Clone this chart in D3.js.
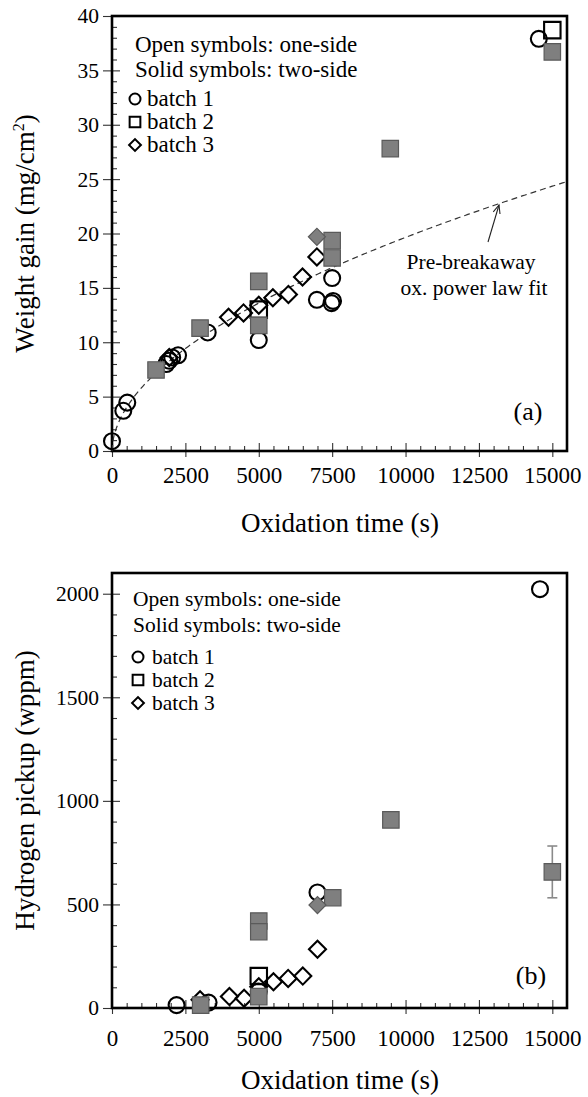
<!DOCTYPE html>
<html><head><meta charset="utf-8">
<script src="https://cdn.jsdelivr.net/npm/d3@7"></script>
<style>
body{margin:0;background:#fff}
svg{display:block}
text{font-family:"Liberation Serif","Times New Roman",serif;fill:#000}
</style>
</head><body>
<svg id="c" width="588" height="1097"></svg>
<script>
// ---------- DATA ----------
// x ticks (s)
const xTicks = [0, 2500, 5000, 7500, 10000, 12500, 15000];
// Panel (a): weight gain (mg/cm2)
const aYTicks = [0, 5, 10, 15, 20, 25, 30, 35, 40];
const aBatch1Open  = [[0,0.9],[385,3.7],[520,4.45],[1850,8.0],[1950,8.3],[2050,8.6],[2250,8.8],[3260,10.9],[5000,10.2],[6980,13.9],[7500,15.9],[7480,13.6],[7530,13.8],[14540,37.9]];
const aBatch2Open  = [[5000,13.0],[15000,38.7]];
const aBatch2Solid = [[1500,7.45],[3000,11.3],[5000,15.6],[5000,11.55],[7500,19.35],[7500,17.75],[9480,27.8],[15000,36.7]];
const aBatch3Open  = [[1950,8.6],[3970,12.3],[4480,12.7],[5000,13.4],[5480,14.1],[6010,14.4],[6490,16.0],[6980,17.85]];
const aBatch3Solid = [[6980,19.7]];
// pre-breakaway power-law fit  w = A * t^N
const fitA = 0.149, fitN = 0.53;
// Panel (b): hydrogen pickup (wppm)
const bYTicks = [0, 500, 1000, 1500, 2000];
const bBatch1Open  = [[2200,14],[3290,26],[5000,80],[7000,558],[14580,2022]];
const bBatch2Open  = [[5000,154]];
const bBatch2Solid = [[3020,14],[5000,55],[5000,420],[5000,368],[7520,532],[9500,908],[15000,657]];
const bBatch2Err   = [[15000,657,125]];
const bBatch3Open  = [[3000,40],[4000,55],[4500,47],[5000,103],[5500,127],[6000,143],[6500,154],[7000,284]];
const bBatch3Solid = [[7000,497]];
// legend
const legendHead = ["Open symbols: one-side", "Solid symbols: two-side"];
const legendBatches = ["batch 1", "batch 2", "batch 3"];

// ---------- DRAW ----------
const svg = d3.select("#c");
const GRAY = "#7f7f7f", GRAY_STROKE = "#5a5a5a";

function symbolPath(type, size) {
  const s = {circle: d3.symbolCircle, square: d3.symbolSquare, diamond: d3.symbolSquare}[type];
  return d3.symbol().type(s).size(size)();
}

function drawMarkers(g, x, y, data, type, filled) {
  const area = {circle: 200, square: 270, diamond: 145}[type];
  g.selectAll(null).data(data).enter().append("path")
    .attr("d", symbolPath(type, area))
    .attr("transform", d => `translate(${x(d[0])},${y(d[1])})` + (type === "diamond" ? " rotate(45)" : ""))
    .attr("fill", filled ? GRAY : "none")
    .attr("stroke", filled ? GRAY_STROKE : "#000")
    .attr("stroke-width", filled ? 1.2 : 2.1);
}

function panel(cfg) {
  const g = svg.append("g");
  const x = d3.scaleLinear().domain([0, 15500]).range([112, 567]);
  const y = d3.scaleLinear().domain(cfg.yDomain).range([cfg.bottom, cfg.top]);

  const xMinor = d3.range(0, 15001, 500).filter(v => !xTicks.includes(v));
  const yMinor = d3.range(cfg.yDomain[0], cfg.yTicks[cfg.yTicks.length-1] + 1e-9, cfg.yMinorStep).filter(v => !cfg.yTicks.some(t => Math.abs(t - v) < 1e-9));
  const minorX = g.append("g").attr("transform", `translate(0,${cfg.bottom})`)
    .call(d3.axisBottom(x).tickValues(xMinor).tickSize(-5).tickFormat(""));
  const minorY = g.append("g").attr("transform", `translate(112,0)`)
    .call(d3.axisLeft(y).tickValues(yMinor).tickSize(-5).tickFormat(""));
  const inX = g.append("g").attr("transform", `translate(0,${cfg.bottom})`)
    .call(d3.axisBottom(x).tickValues(xTicks).tickSize(-8).tickFormat(""));
  const inY = g.append("g").attr("transform", `translate(112,0)`)
    .call(d3.axisLeft(y).tickValues(cfg.yTicks).tickSize(-8).tickFormat(""));
  const xAx = g.append("g").attr("transform", `translate(0,${cfg.bottom})`)
    .call(d3.axisBottom(x).tickValues(xTicks).tickSize(6).tickPadding(cfg.xPad).tickFormat(d3.format("d")));
  const yAx = g.append("g").attr("transform", `translate(112,0)`)
    .call(d3.axisLeft(y).tickValues(cfg.yTicks).tickSize(9).tickPadding(4).tickFormat(d3.format("d")));
  [minorX, minorY, inX, inY, xAx, yAx].forEach(a => {
    a.select(".domain").remove();
    a.selectAll("line").attr("stroke", "#333").attr("stroke-width", 1.1);
  });
  xAx.selectAll("text").attr("font-size", 23);
  yAx.selectAll("text").attr("font-size", 21.5);

  g.append("rect").attr("x", 112).attr("y", cfg.top).attr("width", 567 - 112).attr("height", cfg.bottom - cfg.top)
    .attr("fill", "none").attr("stroke", "#000").attr("stroke-width", 2.6);

  g.append("text").attr("x", 340).attr("y", cfg.bottom + 81).attr("text-anchor", "middle")
    .attr("font-size", 27).text("Oxidation time (s)");
  const yt = g.append("text").attr("transform", `translate(34,${(cfg.top + cfg.bottom) / 2}) rotate(-90)`)
    .attr("text-anchor", "middle").attr("font-size", 27);
  cfg.yTitle(yt);

  if (cfg.fit) {
    const ts = d3.range(0, 15501, 50);
    g.append("path").datum(ts)
      .attr("d", d3.line().x(t => x(t)).y(t => y(fitA * Math.pow(t, fitN))))
      .attr("fill", "none").attr("stroke", "#333").attr("stroke-width", 1.2).attr("stroke-dasharray", "6,4");
  }

  (cfg.err || []).forEach(e => {
    const eg = g.append("g").attr("stroke", "#8a8a8a").attr("stroke-width", 1.6);
    eg.append("line").attr("x1", x(e[0])).attr("x2", x(e[0])).attr("y1", y(e[1] - e[2])).attr("y2", y(e[1] + e[2]));
    eg.append("line").attr("x1", x(e[0]) - 5).attr("x2", x(e[0]) + 5).attr("y1", y(e[1] - e[2])).attr("y2", y(e[1] - e[2]));
    eg.append("line").attr("x1", x(e[0]) - 5).attr("x2", x(e[0]) + 5).attr("y1", y(e[1] + e[2])).attr("y2", y(e[1] + e[2]));
  });

  const mg = g.append("g");
  drawMarkers(mg, x, y, cfg.s3o, "diamond", false);
  drawMarkers(mg, x, y, cfg.s1o, "circle", false);
  drawMarkers(mg, x, y, cfg.s2o, "square", false);
  drawMarkers(mg, x, y, cfg.s2s, "square", true);
  drawMarkers(mg, x, y, cfg.s3s, "diamond", true);

  const L = cfg.legend;
  legendHead.forEach((t, i) => {
    g.append("text").attr("x", L.hx).attr("y", L.hy[i]).attr("font-size", L.fs).text(t);
  });
  const ltypes = ["circle", "square", "diamond"];
  const lsizes = {circle: 95, square: 115, diamond: 70};
  legendBatches.forEach((t, i) => {
    g.append("path").attr("d", symbolPath(ltypes[i], lsizes[ltypes[i]]))
      .attr("transform", `translate(${L.sx},${L.sy[i]})` + (ltypes[i] === "diamond" ? " rotate(45)" : ""))
      .attr("fill", "none").attr("stroke", "#000").attr("stroke-width", 2);
    g.append("text").attr("x", L.tx).attr("y", L.sy[i] + 7).attr("font-size", L.fs).text(t);
  });

  g.append("text").attr("x", cfg.label[1]).attr("y", cfg.label[2]).attr("text-anchor", "middle")
    .attr("font-size", 26).text(cfg.label[0]);
  return {g, x, y};
}

const pa = panel({
  yDomain: [0, 40], top: 16, bottom: 451, yTicks: aYTicks, yMinorStep: 1, xPad: 10,
  yTitle: t => { t.append("tspan").text("Weight gain (mg/cm"); t.append("tspan").attr("font-size", 16).attr("dy", -10).text("2"); t.append("tspan").attr("dy", 10).text(")"); },
  fit: true,
  s1o: aBatch1Open, s2o: aBatch2Open, s2s: aBatch2Solid, s3o: aBatch3Open, s3s: aBatch3Solid,
  legend: {hx: 135, hy: [52, 77], sx: 135, sy: [99, 122, 145], tx: 147, fs: 23},
  label: ["(a)", 528, 420]
});
pa.g.append("text").attr("x", 471).attr("y", 269).attr("text-anchor", "middle").attr("font-size", 21.5).text("Pre-breakaway");
pa.g.append("text").attr("x", 474).attr("y", 295).attr("text-anchor", "middle").attr("font-size", 21.5).text("ox. power law fit");
{
  const x1 = 488, y1 = 242, x2 = 499, y2 = 205;
  const ang = Math.atan2(y2 - y1, x2 - x1);
  const ah = 9, aw = 0.4;
  pa.g.append("line").attr("x1", x1).attr("y1", y1).attr("x2", x2).attr("y2", y2).attr("stroke", "#222").attr("stroke-width", 1.1);
  pa.g.append("path")
    .attr("d", `M${x2 - ah * Math.cos(ang - aw)},${y2 - ah * Math.sin(ang - aw)} L${x2},${y2} L${x2 - ah * Math.cos(ang + aw)},${y2 - ah * Math.sin(ang + aw)}`)
    .attr("fill", "none").attr("stroke", "#222").attr("stroke-width", 1.1);
}

panel({
  yDomain: [0, 2100], top: 573, bottom: 1008, yTicks: bYTicks, yMinorStep: 100, xPad: 16,
  yTitle: t => t.text("Hydrogen pickup (wppm)"),
  fit: false, err: bBatch2Err,
  s1o: bBatch1Open, s2o: bBatch2Open, s2s: bBatch2Solid, s3o: bBatch3Open, s3s: bBatch3Solid,
  legend: {hx: 133, hy: [606, 632], sx: 138, sy: [657, 680, 703], tx: 152, fs: 21.5},
  label: ["(b)", 531, 984]
});
</script>
</body></html>
